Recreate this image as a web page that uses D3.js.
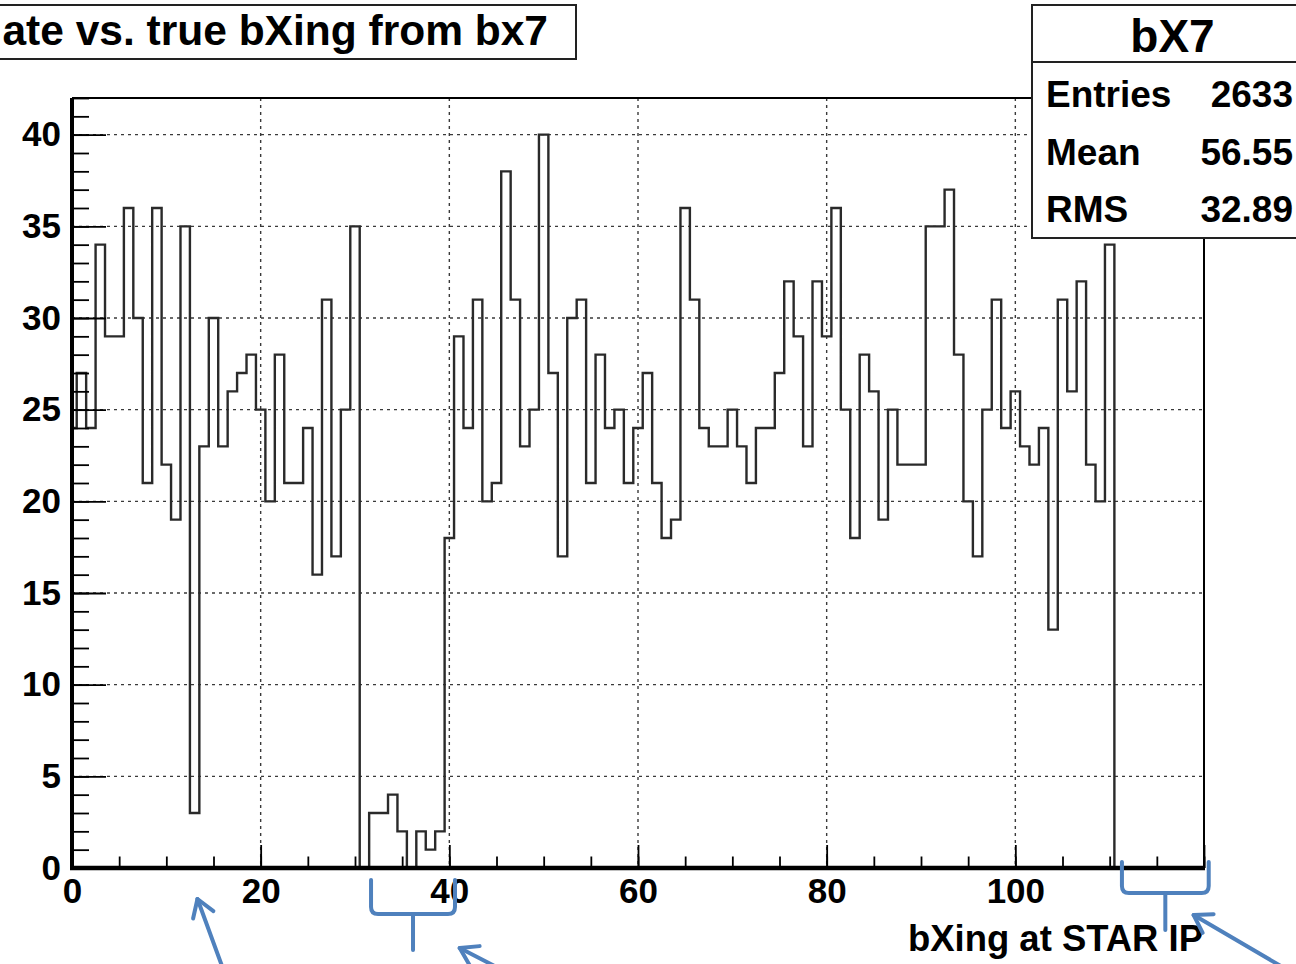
<!DOCTYPE html>
<html>
<head>
<meta charset="utf-8">
<script src="https://cdn.jsdelivr.net/npm/d3@7"></script>
<style>
  html, body { margin: 0; padding: 0; background: #fff; overflow: hidden; }
  svg { display: block; }
  text { font-family: "Liberation Sans", Arial, Helvetica, sans-serif; font-weight: bold; fill: #000; }
</style>
</head>
<body>
<svg id="chart" width="1296" height="964"></svg>
<script>
// Counts per bunch crossing (bin centres 0..119)
const bxing = d3.range(120);
const counts = [
  24, 27, 24, 34, 29, 29, 36, 30, 21, 36,
  22, 19, 35,  3, 23, 30, 23, 26, 27, 28,
  25, 20, 28, 21, 21, 24, 16, 31, 17, 25,
  35,  0,  3,  3,  4,  2,  0,  2,  1,  2,
  18, 29, 24, 31, 20, 21, 38, 31, 23, 25,
  40, 27, 17, 30, 31, 21, 28, 24, 25, 21,
  24, 27, 21, 18, 19, 36, 31, 24, 23, 23,
  25, 23, 21, 24, 24, 27, 32, 29, 23, 32,
  29, 36, 25, 18, 28, 26, 19, 25, 22, 22,
  22, 35, 35, 37, 28, 20, 17, 25, 31, 24,
  26, 23, 22, 24, 13, 31, 26, 32, 22, 20,
  34,  0,  0,  0,  0,  0,  0,  0,  0,  0
];

const xMajorTicks = [0, 20, 40, 60, 80, 100, 120];
const xMajorLabels = ["0", "20", "40", "60", "80", "100", ""];
const xMinorTicks = d3.range(0, 121, 5);
const yMajorTicks = [0, 5, 10, 15, 20, 25, 30, 35, 40];
const yMinorTicks = d3.range(0, 43, 1);

const titleText = "ate vs. true bXing from bx7";
const xAxisTitle = "bXing at STAR IP";
const statName = "bX7";
const statLabels = ["Entries", "Mean", "RMS"];
const statValues = ["2633", "56.55", "32.89"];

// Hand-drawn markings below the axis (x in bXing units)
const braces = [
  { from: 31.7, to: 40.6, top: 880, bottom: 914, stemEnd: 950 },
  { from: 111.3, to: 120.5, top: 862, bottom: 893, stemEnd: 930 }
];
const arrows = [
  { x0: 15.9, y0: 966, x1: 13.3, y1: 899 },
  { x0: 45.2, y0: 968, x1: 41.1, y1: 948 },
  { x0: 128.5, y0: 968, x1: 118.9, y1: 915 }
];

const frame = { left: 72, right: 1204, top: 98, bottom: 868 };
const svg = d3.select("#chart");

svg.append("rect").attr("width", 1296).attr("height", 964).attr("fill", "#fff");

const x = d3.scaleLinear().domain([0, 120]).range([frame.left, frame.right]);
const y = d3.scaleLinear().domain([0, 42]).range([frame.bottom, frame.top]);

// Dotted grid at major ticks
const grid = svg.append("g")
  .attr("stroke", "#3a3a3a").attr("stroke-width", 1.4).attr("stroke-dasharray", "3,4");
grid.selectAll("line.h").data(yMajorTicks.filter(d => d > 0)).join("line")
  .attr("x1", frame.left).attr("x2", frame.right)
  .attr("y1", d => y(d)).attr("y2", d => y(d));
grid.selectAll("line.v").data(xMajorTicks.filter(d => d > 0 && d < 120)).join("line")
  .attr("y1", frame.top).attr("y2", frame.bottom)
  .attr("x1", d => x(d)).attr("x2", d => x(d));

// Histogram outline (bins centred on integers)
const pts = [];
counts.forEach((c, i) => {
  const lo = Math.max(bxing[i] - 0.5, 0);
  const hi = bxing[i] + 0.5;
  pts.push([lo, c], [hi, c]);
});
pts.push([bxing[bxing.length - 1] + 0.5, 0]);
svg.append("path")
  .attr("d", d3.line().x(d => x(d[0])).y(d => y(d[1]))(pts))
  .attr("fill", "none").attr("stroke", "#2a2a2a").attr("stroke-width", 2.4);

// Axes with inward ticks
const yMinor = svg.append("g").attr("transform", `translate(${frame.left},0)`)
  .call(d3.axisLeft(y).tickValues(yMinorTicks).tickSize(-17).tickFormat(""));
const yMajor = svg.append("g").attr("transform", `translate(${frame.left},0)`)
  .call(d3.axisLeft(y).tickValues(yMajorTicks).tickSize(-34).tickPadding(11).tickFormat(d3.format("d")));
const xMinor = svg.append("g").attr("transform", `translate(0,${frame.bottom})`)
  .call(d3.axisBottom(x).tickValues(xMinorTicks).tickSize(-11.5).tickFormat(""));
const xMajor = svg.append("g").attr("transform", `translate(0,${frame.bottom})`)
  .call(d3.axisBottom(x).tickValues(xMajorTicks).tickSize(-23).tickPadding(10)
    .tickFormat((d, i) => xMajorLabels[i]));

[yMinor, yMajor, xMinor, xMajor].forEach(g => {
  g.select(".domain").remove();
  g.selectAll(".tick line").attr("stroke", "#000").attr("stroke-width", 1.8);
  g.selectAll("text").attr("font-size", 35).attr("fill", "#000")
    .attr("font-family", "'Liberation Sans', Arial, sans-serif").attr("font-weight", "bold");
});

// Frame
svg.append("line").attr("x1", frame.left).attr("x2", frame.right).attr("y1", frame.top).attr("y2", frame.top)
  .attr("stroke", "#000").attr("stroke-width", 2);
svg.append("line").attr("x1", frame.right).attr("x2", frame.right).attr("y1", frame.top).attr("y2", frame.bottom)
  .attr("stroke", "#000").attr("stroke-width", 2);
svg.append("line").attr("x1", frame.left).attr("x2", frame.left).attr("y1", frame.top).attr("y2", frame.bottom + 2)
  .attr("stroke", "#000").attr("stroke-width", 4);
svg.append("line").attr("x1", frame.left - 2).attr("x2", frame.right + 1).attr("y1", frame.bottom).attr("y2", frame.bottom)
  .attr("stroke", "#000").attr("stroke-width", 4.5);

// Axis title
svg.append("text").attr("x", frame.right - 1).attr("y", 951)
  .attr("text-anchor", "end").attr("font-size", 36)
  .attr("textLength", 295).attr("lengthAdjust", "spacingAndGlyphs")
  .text(xAxisTitle);

// Statistics box
const stats = svg.append("g");
stats.append("rect").attr("x", 1032).attr("y", 5).attr("width", 300).attr("height", 233)
  .attr("fill", "#fff").attr("stroke", "#222").attr("stroke-width", 2);
stats.append("line").attr("x1", 1032).attr("x2", 1332).attr("y1", 62).attr("y2", 62)
  .attr("stroke", "#222").attr("stroke-width", 2);
stats.append("text").attr("x", 1172.5).attr("y", 52).attr("text-anchor", "middle")
  .attr("font-size", 46).text(statName);
const rowY = [107, 165, 222];
statLabels.forEach((lab, i) => {
  stats.append("text").attr("x", 1046).attr("y", rowY[i]).attr("font-size", 37).text(lab);
  stats.append("text").attr("x", 1293).attr("y", rowY[i]).attr("text-anchor", "end")
    .attr("font-size", 37).text(statValues[i]);
});

// Title box
const title = svg.append("g");
title.append("rect").attr("x", -5).attr("y", 5).attr("width", 581).attr("height", 54)
  .attr("fill", "#fff").attr("stroke", "#222").attr("stroke-width", 2);
title.append("text").attr("x", 548).attr("y", 45).attr("text-anchor", "end")
  .attr("font-size", 42.5).text(titleText);

// Blue hand-drawn braces and arrows
const blue = "#4f81bd";
const marks = svg.append("g").attr("fill", "none").attr("stroke", blue)
  .attr("stroke-width", 4).attr("stroke-linecap", "round").attr("stroke-linejoin", "round");
braces.forEach(b => {
  const xl = x(b.from), xr = x(b.to), xm = (xl + xr) / 2, r = 7;
  marks.append("path").attr("d",
    `M${xl},${b.top} L${xl},${b.bottom - r} Q${xl},${b.bottom} ${xl + r},${b.bottom}` +
    ` L${xr - r},${b.bottom} Q${xr},${b.bottom} ${xr},${b.bottom - r} L${xr},${b.top}`);
  marks.append("path").attr("d", `M${xm},${b.bottom} L${xm},${b.stemEnd}`);
});
arrows.forEach(a => {
  const X0 = x(a.x0), X1 = x(a.x1);
  const ang = Math.atan2(a.y0 - a.y1, X0 - X1);
  const len = 20, spread = Math.PI / 5.5;
  marks.append("path").attr("d", `M${X0},${a.y0} L${X1},${a.y1}`);
  marks.append("path").attr("d",
    `M${X1 + len * Math.cos(ang - spread)},${a.y1 + len * Math.sin(ang - spread)}` +
    ` L${X1},${a.y1} L${X1 + len * Math.cos(ang + spread)},${a.y1 + len * Math.sin(ang + spread)}`);
});
</script>
</body>
</html>
